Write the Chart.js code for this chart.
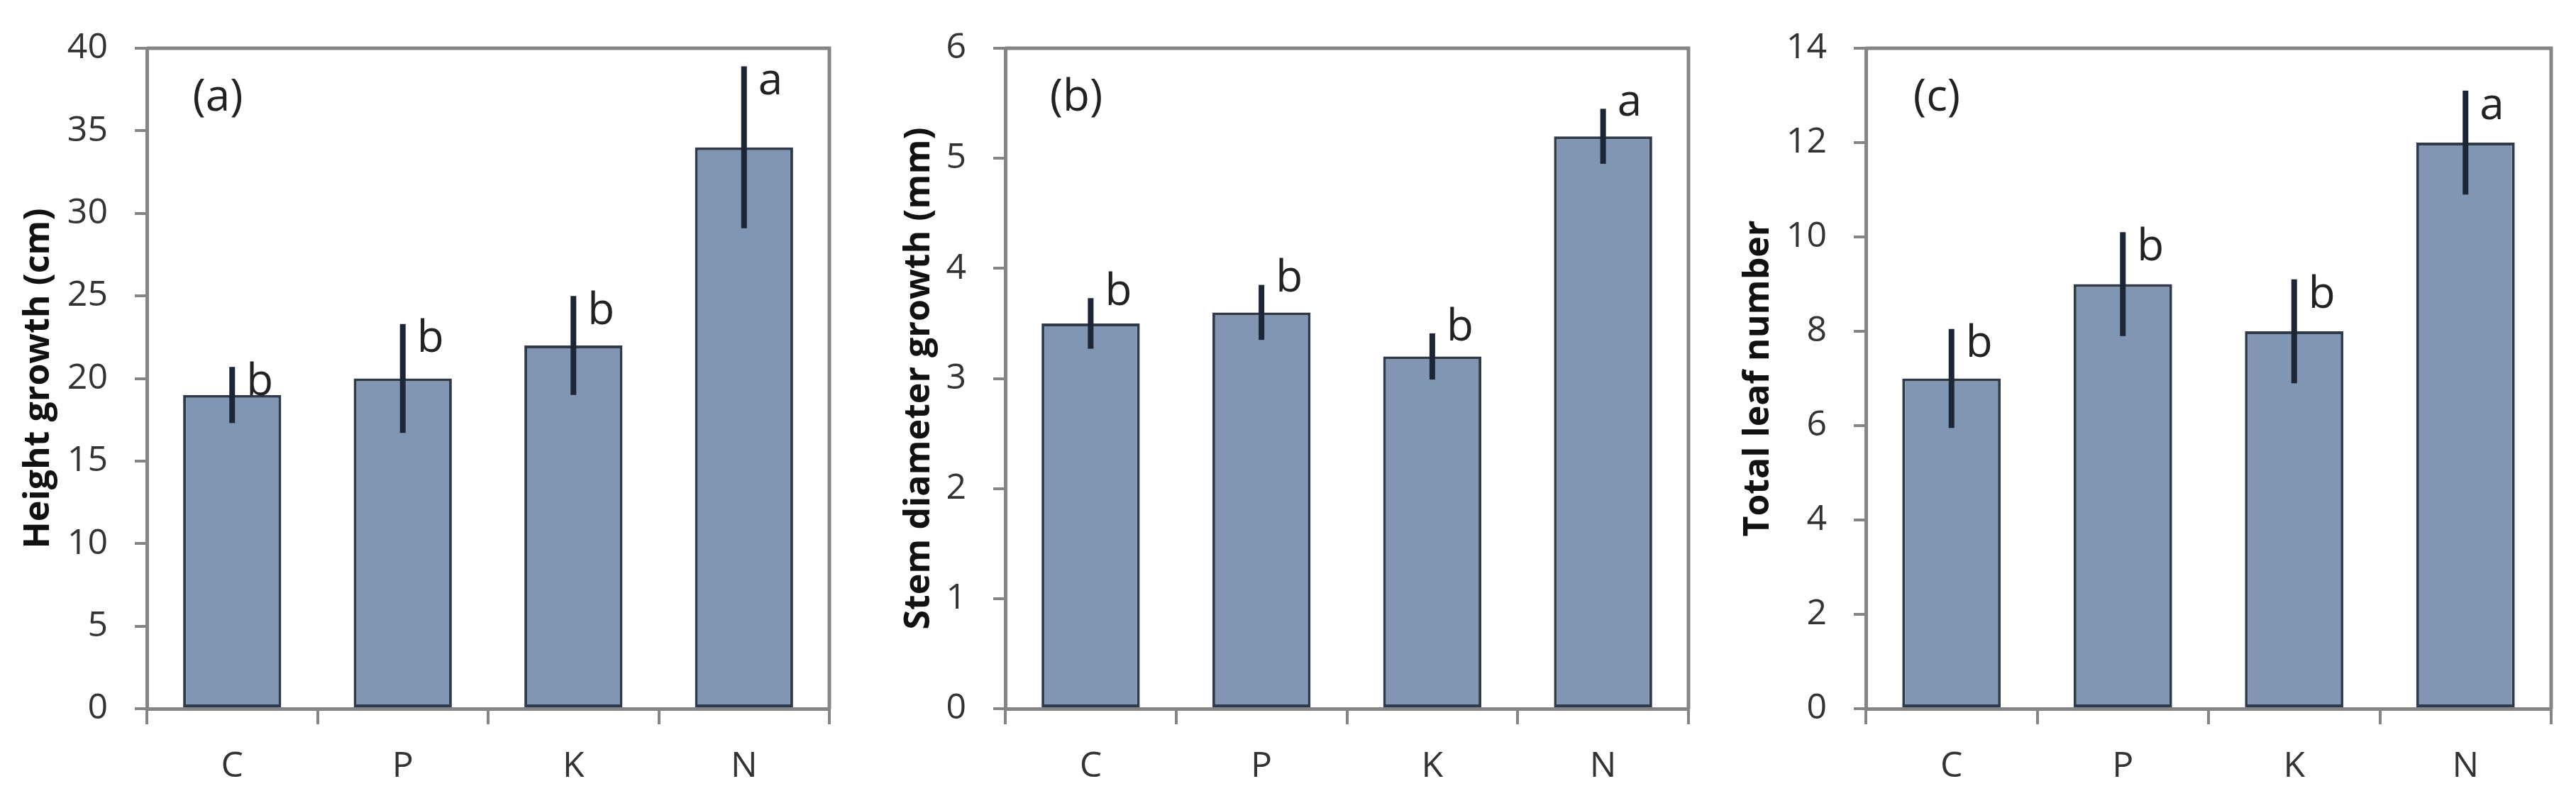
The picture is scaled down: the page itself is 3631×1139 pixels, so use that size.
<!DOCTYPE html>
<html>
<head>
<meta charset="utf-8">
<script src="https://cdn.jsdelivr.net/npm/chart.js@4.4.1/dist/chart.umd.min.js"></script>
<style>
  body { margin: 0; background: #fff; }
  #wrap { position: relative; width: 3631px; height: 1139px; }
  canvas { position: absolute; top: 0; }
</style>
</head>
<body>
<div id="wrap">
  <canvas id="chartHeight" width="1200" height="1139" style="left:0px"></canvas>
  <canvas id="chartDiameter" width="1210" height="1139" style="left:1200px"></canvas>
  <canvas id="chartLeaves" width="1221" height="1139" style="left:2410px"></canvas>
</div>
<script>
const categories = ['C', 'P', 'K', 'N']

const heightMean = [19, 20, 22, 34]
const heightErr = [1.7, 3.3, 3.0, 4.9]

const diameterMean = [3.5, 3.6, 3.2, 5.2]
const diameterErr = [0.23, 0.25, 0.21, 0.25]

const leafMean = [7, 9, 8, 12]
const leafErr = [1.05, 1.1, 1.1, 1.1]

const letters = ['b', 'b', 'b', 'a']

const yTicksHeight = [0, 5, 10, 15, 20, 25, 30, 35, 40]
const yTicksDiameter = [0, 1, 2, 3, 4, 5, 6]
const yTicksLeaves = [0, 2, 4, 6, 8, 10, 12, 14]

const FONT = "'Open Sans', 'DejaVu Sans', sans-serif"
const AXIS_GREY = '#858585'

// error bars, significance letters, panel tag and the open box
const extras = {
  id: 'extras',
  afterDatasetsDraw(chart, args, opts) {
    const ctx = chart.ctx
    const x = chart.scales.x
    const y = chart.scales.y
    const area = chart.chartArea

    ctx.save()
    ctx.strokeStyle = AXIS_GREY
    ctx.lineWidth = 5
    ctx.beginPath()
    ctx.moveTo(area.left, area.top)
    ctx.lineTo(area.right, area.top)
    ctx.lineTo(area.right, area.bottom)
    ctx.stroke()

    ctx.strokeStyle = '#1c2636'
    ctx.lineWidth = 8
    ctx.lineCap = 'butt'
    ctx.font = '62px ' + FONT
    ctx.fillStyle = '#222'
    ctx.textAlign = 'left'
    ctx.textBaseline = 'middle'
    for (let i = 0; i < opts.means.length; i++) {
      let px = x.getPixelForValue(i)
      let top = y.getPixelForValue(opts.means[i] + opts.errs[i])
      let bot = y.getPixelForValue(opts.means[i] - opts.errs[i])
      ctx.beginPath()
      ctx.moveTo(px, top)
      ctx.lineTo(px, bot)
      ctx.stroke()
      ctx.fillText(opts.letters[i], px + 20, top + opts.letterShift)
    }

    ctx.textAlign = 'center'
    ctx.fillText(opts.tag, area.left + 100, 138)
    ctx.restore()
  }
}

function panel(id, means, errs, ticks, title, yWidth, titlePad, padRight, tag, letterShift) {
  let ctx = document.getElementById(id).getContext('2d')
  return new Chart(ctx, {
    type: 'bar',
    data: {
      labels: categories,
      datasets: [{
        data: means,
        backgroundColor: '#8196b2',
        borderColor: '#2f3a4a',
        borderWidth: 4,
        borderSkipped: false,
        barPercentage: 0.575,
        categoryPercentage: 1.0
      }]
    },
    options: {
      responsive: false,
      animation: false,
      devicePixelRatio: 1,
      layout: { padding: { top: 52, right: padRight, bottom: 0, left: 0 } },
      plugins: {
        legend: { display: false },
        tooltip: { enabled: false },
        extras: { means: means, errs: errs, letters: letters, tag: tag, letterShift: letterShift }
      },
      scales: {
        x: {
          afterFit: function(s) { s.height = 140 },
          grid: { display: true, drawOnChartArea: false, drawTicks: true, tickLength: 22, color: AXIS_GREY, lineWidth: 4, offset: true },
          border: { display: true, color: AXIS_GREY, width: 5 },
          ticks: { padding: 30, color: '#333', font: { family: FONT, size: 50 } }
        },
        y: {
          min: ticks[0],
          max: ticks[ticks.length - 1],
          afterFit: function(s) { s.width = yWidth },
          afterBuildTicks: function(s) { s.ticks = ticks.map(v => ({ value: v })) },
          grid: { display: true, drawOnChartArea: false, drawTicks: true, tickLength: 17, color: AXIS_GREY, lineWidth: 4 },
          border: { display: true, color: AXIS_GREY, width: 5 },
          ticks: { padding: 38, color: '#333', font: { family: FONT, size: 50 } },
          title: {
            display: true,
            text: title,
            color: '#111',
            padding: { top: titlePad, bottom: 0 },
            font: { family: FONT, size: 50, weight: 'bold' }
          }
        }
      }
    },
    plugins: [extras]
  })
}

panel('chartHeight', heightMean, heightErr, yTicksHeight, 'Height growth (cm)', 207, 25, 31, '(a)', 22)
panel('chartDiameter', diameterMean, diameterErr, yTicksDiameter, 'Stem diameter growth (mm)', 217, 66, 30, '(b)', -8)
panel('chartLeaves', leafMean, leafErr, yTicksLeaves, 'Total leaf number', 220, 39, 35, '(c)', 22)
</script>
</body>
</html>
